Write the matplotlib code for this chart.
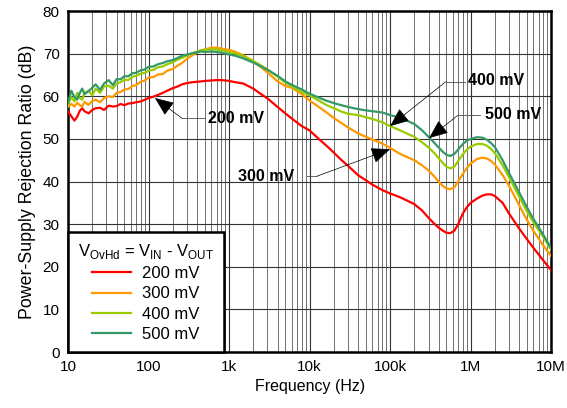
import numpy as np
import matplotlib
matplotlib.use("Agg")
import matplotlib.pyplot as plt
from matplotlib.ticker import FixedLocator, FixedFormatter, LogLocator, NullFormatter

plt.rcParams["font.family"] = ["Liberation Sans", "DejaVu Sans"]
plt.rcParams["mathtext.fontset"] = "custom"
plt.rcParams["mathtext.rm"] = "Liberation Sans"

freq = [10, 11, 12, 13, 14, 15, 16, 18, 20, 22, 25, 28, 32, 36, 40, 45, 50, 56, 63, 70,
        80, 90, 100, 115, 130, 150, 170, 200, 230, 260, 300, 350, 400, 450, 500, 600,
        700, 800, 900, 1e3, 1.2e3, 1.5e3, 2e3, 2.5e3, 3e3, 4e3, 5e3, 6e3, 8e3, 10e3,
        13e3, 16e3, 20e3, 25e3, 30e3, 40e3, 50e3, 60e3, 80e3, 100e3, 130e3, 160e3,
        200e3, 250e3, 300e3, 350e3, 400e3, 450e3, 500e3, 560e3, 630e3, 700e3, 800e3,
        900e3, 1e6, 1.2e6, 1.4e6, 1.6e6, 1.8e6, 2e6, 2.5e6, 3e6, 4e6, 5e6, 6e6, 8e6, 10e6]

psrr_200 = [56.5, 55.3, 54.3, 55.2, 56.6, 57.2, 56.5, 56.0, 56.8, 57.2, 57.3, 56.8, 57.8, 57.6, 57.7, 58.2, 57.9, 58.3, 58.4, 58.6,
            58.8, 59.2, 59.6, 59.9, 60.3, 60.8, 61.3, 61.9, 62.3, 62.8, 63.1, 63.3, 63.4, 63.5, 63.6, 63.7,
            63.8, 63.8, 63.7, 63.6, 63.3, 63.0, 61.8, 60.5, 59.5, 57.5, 56.0, 54.8, 53.0, 52.0,
            50.0, 48.5, 46.8, 45.0, 43.7, 41.5, 40.3, 39.3, 38.0, 37.2, 36.4, 35.6,
            34.7, 33.2, 31.5, 30.2, 29.2, 28.5, 28.0, 27.9, 28.5, 30.0, 32.5,
            34.0, 35.0, 36.0, 36.7, 37.0, 37.0, 36.6, 35.0, 32.5, 29.0, 26.5, 24.5, 21.5, 19.2]

psrr_300 = [57.5, 58.2, 57.6, 58.5, 57.9, 57.6, 58.7, 58.0, 58.9, 59.2, 58.6, 59.6, 60.0, 59.8, 60.8, 61.0, 61.6, 61.7, 62.4, 62.6,
            63.4, 63.7, 64.4, 64.5, 65.1, 65.2, 66.0, 66.4, 67.2, 67.8, 68.8, 69.6, 70.3, 70.8, 71.0, 71.4,
            71.4, 71.2, 71.0, 70.9, 70.4, 69.6, 68.2, 66.8, 65.6, 63.5, 62.4, 62.0, 60.5, 59.0,
            57.5, 56.3, 54.9, 53.7, 52.7, 51.3, 50.5, 49.9, 48.9, 47.9, 46.6, 45.8,
            45.0, 43.8, 42.6, 41.3, 40.0, 39.0, 38.4, 38.2, 38.7, 40.0, 41.8,
            43.2, 44.2, 45.3, 45.6, 45.4, 44.8, 44.0, 41.5, 39.0, 34.5, 31.0, 28.5, 25.0, 22.5]

psrr_400 = [58.0, 59.8, 58.8, 60.8, 59.6, 59.2, 60.8, 61.3, 60.2, 61.8, 60.8, 62.3, 62.5, 61.8, 63.0, 63.3, 63.9, 63.8, 64.6, 64.8,
            65.3, 65.5, 66.0, 66.2, 66.8, 67.0, 67.5, 68.0, 68.6, 69.0, 69.6, 70.1, 70.5, 70.8, 70.9, 71.0,
            71.0, 70.8, 70.6, 70.4, 70.0, 69.4, 68.3, 67.2, 66.3, 64.6, 63.2, 62.3, 61.0, 60.2,
            59.0, 58.0, 57.2, 56.4, 55.9, 55.6, 55.1, 54.7, 53.9, 53.0, 52.1, 51.3,
            50.5, 49.2, 48.0, 46.8, 45.5, 44.4, 43.5, 43.1, 43.5, 44.8, 46.4,
            47.5, 48.2, 48.8, 48.8, 48.4, 47.6, 46.7, 43.8, 41.0, 36.5, 33.0, 30.5, 27.0, 24.0]

psrr_500 = [58.5, 61.3, 59.8, 59.2, 60.8, 61.8, 60.5, 61.2, 62.0, 62.8, 61.5, 63.0, 63.8, 62.6, 64.0, 64.0, 64.7, 64.7, 65.4, 65.5,
            66.1, 66.3, 66.9, 67.0, 67.5, 67.8, 68.2, 68.5, 69.0, 69.5, 69.8, 70.1, 70.3, 70.5, 70.4, 70.5,
            70.4, 70.2, 70.0, 69.8, 69.5, 68.9, 67.9, 67.0, 66.2, 64.8, 63.5, 62.7, 61.6, 60.6,
            59.7, 59.0, 58.4, 57.9, 57.5, 57.0, 56.7, 56.5, 56.2, 55.6, 55.0, 54.3,
            53.5, 52.0, 50.5, 49.2, 48.0, 47.0, 46.3, 46.0, 46.5, 47.5, 48.8,
            49.6, 50.0, 50.4, 50.3, 49.8, 49.0, 48.1, 45.0, 42.0, 37.5, 34.0, 31.3, 27.5, 24.4]

series = [("200 mV", psrr_200, "#ff0000"),
          ("300 mV", psrr_300, "#ff9900"),
          ("400 mV", psrr_400, "#99cc00"),
          ("500 mV", psrr_500, "#339966")]

xtick_vals = [10, 100, 1e3, 1e4, 1e5, 1e6, 1e7]
xtick_labels = ["10", "100", "1k", "10k", "100k", "1M", "10M"]

fig = plt.figure(figsize=(5.67, 4.08), dpi=100)
ax = fig.add_axes([0.12, 0.137, 0.852, 0.836])

for label, vals, col in series:
    ax.plot(freq, vals, color=col, lw=1.6, label=label, zorder=3)

ax.set_xscale("log")
ax.set_xlim(10, 1e7)
ax.set_ylim(0, 80)
ax.xaxis.set_major_locator(FixedLocator(xtick_vals))
ax.xaxis.set_major_formatter(FixedFormatter(xtick_labels))
ax.xaxis.set_minor_locator(LogLocator(base=10, subs=np.arange(2, 10)))
ax.xaxis.set_minor_formatter(NullFormatter())
ax.set_yticks(range(0, 81, 10))
ax.tick_params(which="both", length=0, labelsize=11, pad=6)

ax.grid(True, which="major", color="0.2", lw=0.8)
ax.grid(True, which="minor", axis="x", color="0.35", lw=0.6)
for s in ax.spines.values():
    s.set_linewidth(1.8)
    s.set_color("black")

ax.set_xlabel("Frequency (Hz)", fontsize=11.5, labelpad=3)
ax.set_ylabel("Power-Supply Rejection Ratio (dB)", fontsize=12.8, labelpad=5)

# callouts
arr = dict(arrowstyle="-|>,head_length=1.2,head_width=0.5", color="black", lw=0.5, shrinkA=0, shrinkB=0)
lead = dict(color="0.3", lw=0.6)

ax.plot([262, 500], [54.8, 54.8], **lead)
ax.annotate("", xy=(120, 59.6), xytext=(262, 54.8), arrowprops=arr)
ax.text(540, 54.8, "200 mV", fontsize=11.5, fontweight="bold", va="center", ha="left")

ax.plot([9.3e3, 1.25e4], [41.3, 41.3], **lead)
ax.annotate("", xy=(1.0e5, 47.6), xytext=(1.25e4, 41.3), arrowprops=arr)
ax.text(1.28e3, 41.3, "300 mV", fontsize=11.5, fontweight="bold", va="center", ha="left")

ax.plot([4.9e5, 8.6e5], [63.4, 63.4], **lead)
ax.annotate("", xy=(1.0e5, 53.0), xytext=(4.9e5, 63.4), arrowprops=arr)
ax.text(9.3e5, 63.8, "400 mV", fontsize=11.5, fontweight="bold", va="center", ha="left")

ax.plot([6.9e5, 1.3e6], [55.5, 55.5], **lead)
ax.annotate("", xy=(3.05e5, 50.2), xytext=(6.9e5, 55.5), arrowprops=arr)
ax.text(1.5e6, 55.8, "500 mV", fontsize=11.5, fontweight="bold", va="center", ha="left")

leg = ax.legend(loc="lower left", bbox_to_anchor=(0, 0), borderaxespad=0,
                title=r"V$_\mathregular{OvHd}$ = V$_\mathregular{IN}$ - V$_\mathregular{OUT}$",
                fontsize=12, title_fontsize=12, fancybox=False, framealpha=1,
                edgecolor="black", handlelength=2.3, labelspacing=0.32,
                borderpad=0.6, handletextpad=0.7)
leg.get_frame().set_linewidth(1.8)
leg.set_zorder(5)

fig.savefig("out.png", dpi=100)
